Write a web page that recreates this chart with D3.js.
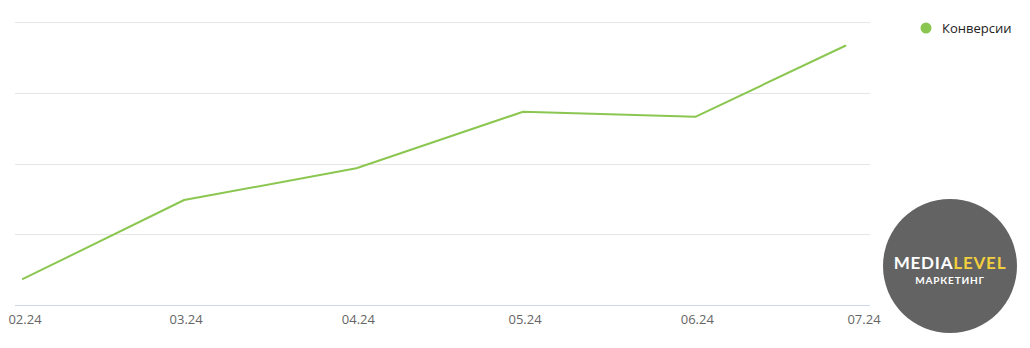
<!DOCTYPE html>
<html>
<head>
<meta charset="utf-8">
<script src="https://cdn.jsdelivr.net/npm/d3@7"></script>
<style>
  body { margin: 0; background: #fff; }
  svg { display: block; font-family: "Open Sans", "Noto Sans", sans-serif; }
</style>
</head>
<body>
<div id="chart"></div>
<script>
// data
var dates = ["2024-02-01", "2024-03-01", "2024-04-01", "2024-05-01", "2024-06-01", "2024-06-28"];
var conversions = [9.2, 37.1, 48.3, 68.3, 66.5, 91.6];
var tickDates = ["2024-02-01", "2024-03-01", "2024-04-01", "2024-05-01", "2024-06-01", "2024-07-01"];
var tickLabels = ["02.24", "03.24", "04.24", "05.24", "06.24", "07.24"];
var yTicks = [0, 25, 50, 75, 100];
var seriesName = "Конверсии";

var width = 1030, height = 348;
var parse = d3.timeParse("%Y-%m-%d");

var svg = d3.select("#chart").append("svg")
    .attr("width", width)
    .attr("height", height);

var x = d3.scaleTime()
    .domain([parse(tickDates[0]), parse(tickDates[tickDates.length - 1])])
    .range([23, 862]);

var y = d3.scaleLinear()
    .domain([0, 100])
    .range([305, 22]);

// horizontal grid
svg.append("g")
    .selectAll("line")
    .data(yTicks)
    .enter().append("line")
    .attr("x1", 15)
    .attr("x2", 870)
    .attr("y1", function (d) { return Math.round(y(d)) + 0.5; })
    .attr("y2", function (d) { return Math.round(y(d)) + 0.5; })
    .attr("stroke", function (d) { return d === 0 ? "#ccd6eb" : "#e6e6e6"; })
    .attr("stroke-width", 1);

// x axis labels
var xAxis = d3.axisBottom(x)
    .tickValues(tickDates.map(parse))
    .tickSize(0)
    .tickPadding(0)
    .tickFormat(function (d, i) { return tickLabels[i]; });

var gx = svg.append("g")
    .attr("transform", "translate(1.5,315)")
    .call(xAxis);
gx.select(".domain").remove();
gx.selectAll("text")
    .attr("dy", "0.71em")
    .style("font-size", "13px")
    .style("font-family", "'Open Sans', 'Noto Sans', sans-serif")
    .attr("fill", "#666666");

// line
var points = dates.map(function (d, i) { return { date: parse(d), value: conversions[i] }; });
var line = d3.line()
    .x(function (d) { return x(d.date); })
    .y(function (d) { return y(d.value); });

svg.append("path")
    .datum(points)
    .attr("d", line)
    .attr("fill", "none")
    .attr("stroke", "#8bc750")
    .attr("stroke-width", 2)
    .attr("stroke-linejoin", "round")
    .attr("stroke-linecap", "round");

// legend
var legend = svg.append("g").attr("transform", "translate(926,28)");
legend.append("circle")
    .attr("r", 5.5)
    .attr("fill", "#8bc750");
legend.append("text")
    .attr("x", 16)
    .attr("dy", "0.35em")
    .style("font-size", "13px")
    .attr("fill", "#222")
    .text(seriesName);

// logo badge
var logo = svg.append("g").attr("transform", "translate(950,266)");
logo.append("circle")
    .attr("r", 67)
    .attr("fill", "#636363");
var title = logo.append("text")
    .attr("text-anchor", "middle")
    .attr("y", 3)
    .style("font-family", "Lato, 'Open Sans', sans-serif")
    .style("font-weight", "700")
    .style("font-size", "17px")
    .style("letter-spacing", "0.8px");
title.append("tspan").attr("fill", "#ffffff").text("MEDIA");
title.append("tspan").attr("fill", "#f2cf3d").text("LEVEL");
logo.append("text")
    .attr("text-anchor", "middle")
    .attr("y", 18)
    .attr("fill", "#ffffff")
    .style("font-family", "Lato, 'Open Sans', sans-serif")
    .style("font-weight", "700")
    .style("font-size", "10px")
    .style("letter-spacing", "0.8px")
    .text("МАРКЕТИНГ");
</script>
</body>
</html>
